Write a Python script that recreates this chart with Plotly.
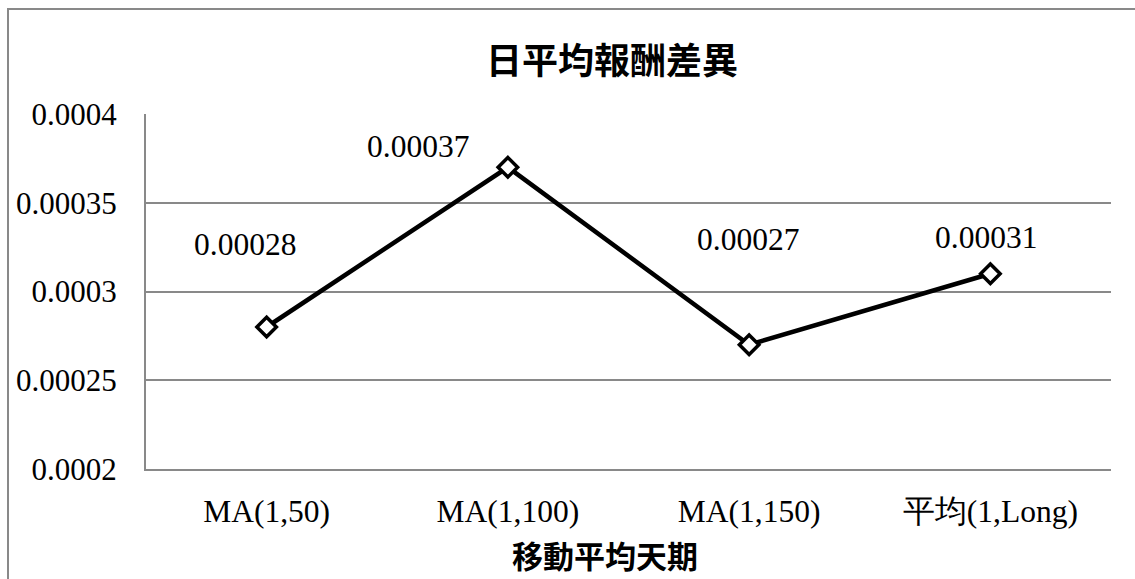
import plotly.graph_objects as go

# Moving-average periods and the mean daily return difference for each
categories = ["MA(1,50)", "MA(1,100)", "MA(1,150)", "平均(1,Long)"]
values = [0.00028, 0.00037, 0.00027, 0.00031]

# Y axis ticks
y_tick_values = [0.0002, 0.00025, 0.0003, 0.00035, 0.0004]
y_tick_labels = ["0.0002", "0.00025", "0.0003", "0.00035", "0.0004"]

title_text = "日平均報酬差異"
x_axis_title = "移動平均天期"

# Pixel offsets for each value label relative to its point (dx, dy; dy up)
label_offsets = [(-22, 83), (-90, 21), (-1, 105), (-4, 36)]

SERIF = "Liberation Serif"
CJK_BOLD = "Noto Sans CJK TC"
GRID = "#898989"
W, H = 1135, 579
L, R, T, B = 146, 24, 114, 110
PW, PH = W - L - R, H - T - B

fig = go.Figure()
fig.add_trace(go.Scatter(
    x=categories,
    y=values,
    mode="lines+markers",
    line=dict(color="black", width=4.5),
    marker=dict(symbol="diamond", size=15, color="white",
                line=dict(color="black", width=3.5)),
    cliponaxis=False,
    hoverinfo="x+y",
))

annotations = []
for cat, val, (dx, dy) in zip(categories, values, label_offsets):
    annotations.append(dict(
        x=cat, y=val, xref="x", yref="y",
        text=f"{val:g}", showarrow=False,
        xshift=dx, yshift=dy,
        xanchor="center", yanchor="middle",
        font=dict(family=SERIF, size=31.5, color="black"),
    ))

# Chart title and x-axis title
annotations.append(dict(
    x=(612 - L) / PW, y=(H - B - 57.5) / PH, xref="paper", yref="paper",
    text=f"<b>{title_text}</b>", showarrow=False,
    xanchor="center", yanchor="middle",
    font=dict(family=CJK_BOLD, size=36, color="black"),
))
annotations.append(dict(
    x=(605 - L) / PW, y=(H - B - 554) / PH, xref="paper", yref="paper",
    text=f"<b>{x_axis_title}</b>", showarrow=False,
    xanchor="center", yanchor="middle",
    font=dict(family=CJK_BOLD, size=31, color="black"),
))

# Outer chart border (runs past the right and bottom edges)
shapes = [dict(
    type="rect", xref="paper", yref="paper",
    x0=(8 - L) / PW, x1=(W + 10 - L) / PW,
    y0=(H - B - (H + 10)) / PH, y1=(H - B - 9) / PH,
    line=dict(color=GRID, width=2), fillcolor="rgba(0,0,0,0)", layer="below",
)]

fig.update_layout(
    width=W, height=H,
    margin=dict(l=L, r=R, t=T, b=B, pad=0, autoexpand=False),
    paper_bgcolor="white", plot_bgcolor="white",
    showlegend=False,
    annotations=annotations,
    shapes=shapes,
    font=dict(family=SERIF, size=31.5, color="black"),
)
fig.update_xaxes(
    type="category",
    showgrid=False, zeroline=False,
    showline=True, linecolor=GRID, linewidth=2,
    ticks="", ticklabelstandoff=13, automargin=False,
    tickfont=dict(family=SERIF, size=31.5, color="black"),
    range=[-0.5, len(categories) - 0.5],
    fixedrange=True,
)
fig.update_yaxes(
    range=[y_tick_values[0], y_tick_values[-1]],
    tickvals=y_tick_values, ticktext=y_tick_labels,
    showgrid=True, gridcolor=GRID, gridwidth=2,
    zeroline=False,
    showline=True, linecolor=GRID, linewidth=2,
    ticks="", ticklabelstandoff=21, automargin=False,
    tickfont=dict(family=SERIF, size=31, color="black"),
    fixedrange=True,
)

fig.write_html("out.html")
